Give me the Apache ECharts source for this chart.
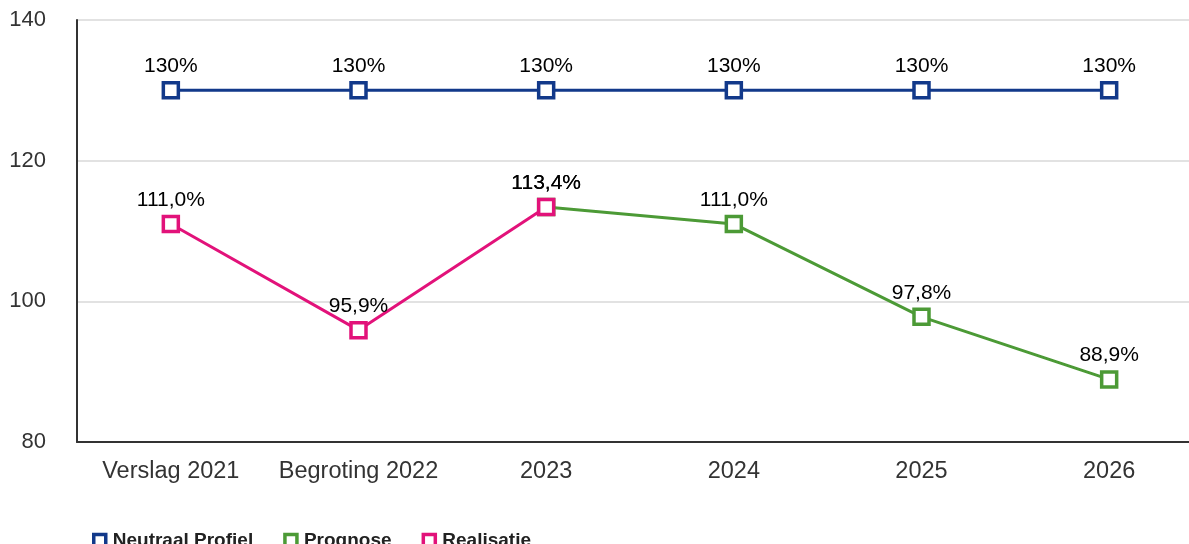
<!DOCTYPE html>
<html><head><meta charset="utf-8">
<script src="https://cdn.jsdelivr.net/npm/echarts@6/dist/echarts.min.js"></script>
<style>html,body{margin:0;padding:0;background:#fff;overflow:hidden}#c{width:1203px;height:544px}</style>
</head><body><div id="c"></div>
<script>
const categories = ['Verslag 2021','Begroting 2022','2023','2024','2025','2026'];
const neutraal = [130,130,130,130,130,130];
const prognose = [null,null,113.4,111.0,97.8,88.9];
const realisatie = [111.0,95.9,113.4,null,null,null];
const yTicks = {min:80,max:140,interval:20};

const font = 'Liberation Sans, Arial, sans-serif';
const fmtPct = p => p.value.toFixed(1).replace('.', ',') + '%';
function mk(name, data, color, fmt, z) {
  return {
    name, type:'line', data, z,
    symbol:'rect', symbolSize:15, showAllSymbol:true,
    lineStyle:{color, width:3},
    itemStyle:{color:'#fff', borderColor:color, borderWidth:3.5},
    label:{show:true, position:'top', distance:4, color:'#000', fontSize:21, fontFamily:font, formatter:fmt},
    emphasis:{disabled:true}, animation:false
  };
}
const chart = echarts.init(document.getElementById('c'));
chart.setOption({
  animation:false,
  grid:{left:77, top:20, right:0, height:422, containLabel:false},
  legend:{
    left:87, top:526, itemWidth:12, itemHeight:12, itemGap:30,
    icon:'rect',
    textStyle:{fontFamily:font, fontSize:19, fontWeight:'bold', color:'#222', padding:[0,0,0,2]},
    data:[
      {name:'Neutraal Profiel', itemStyle:{color:'#fff', borderColor:'#12398a', borderWidth:3.5}},
      {name:'Prognose', itemStyle:{color:'#fff', borderColor:'#4c9a36', borderWidth:3.5}},
      {name:'Realisatie', itemStyle:{color:'#fff', borderColor:'#e2127a', borderWidth:3.5}}
    ]
  },
  xAxis:{
    type:'category', data:categories, boundaryGap:true,
    axisLine:{lineStyle:{color:'#333', width:2}},
    axisTick:{show:false},
    axisLabel:{fontFamily:font, fontSize:23.5, color:'#333', margin:18, interval:0}
  },
  yAxis:{
    type:'value', min:yTicks.min, max:yTicks.max, interval:yTicks.interval,
    axisLine:{show:true, lineStyle:{color:'#333', width:2}},
    axisTick:{show:false},
    splitLine:{lineStyle:{color:'#d9d9d9', width:1.5}},
    axisLabel:{fontFamily:font, fontSize:22, color:'#333', margin:31}
  },
  series:[
    mk('Neutraal Profiel', neutraal, '#12398a', p => p.value + '%', 3),
    mk('Prognose', prognose, '#4c9a36', fmtPct, 2),
    mk('Realisatie', realisatie, '#e2127a', fmtPct, 4)
  ]
});
</script></body></html>
